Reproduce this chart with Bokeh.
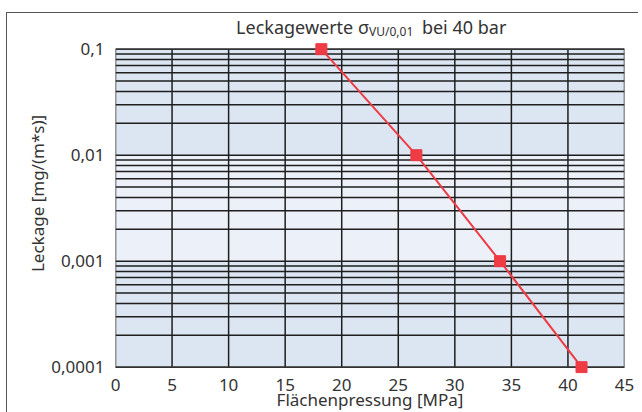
from bokeh.plotting import figure
from bokeh.models import FixedTicker, Label
from bokeh.embed import file_html
from bokeh.resources import INLINE

# ---- data ----
pressure = [18.2, 26.6, 34.0, 41.2]          # Flächenpressung [MPa]
leakage = [0.1, 0.01, 0.001, 0.0001]         # Leckage [mg/(m*s)]
x_ticks = [0, 5, 10, 15, 20, 25, 30, 35, 40, 45]
y_ticks = [0.0001, 0.001, 0.01, 0.1]
y_tick_labels = ["0,0001", "0,001", "0,01", "0,1"]
title_main = "Leckagewerte σ"
title_sub = "VU/0,01"
title_tail = "bei 40 bar"
x_label = "Flächenpressung [MPa]"
y_label = "Leckage [mg/(m*s)]"

FONT = "Noto Sans"
TXT = "#333333"
RED = "#ee3b44"
GRID = "#1e1e1e"

# ---- layout (page pixel targets) ----
OFF_Y = 12.3                               # page y of canvas top
H = 402
MB_BOTTOM = 42
BOX_TOP, BOX_BOTTOM = 48.0, 366.0          # page y of 0.1 and 0.0001
DEC = (BOX_BOTTOM - BOX_TOP) / 3.0
FRAME_TOP = OFF_Y
FRAME_BOTTOM = OFF_Y + H - MB_BOTTOM
BOX_LEFT, BOX_RIGHT = 116.0, 626.0
PXU = (BOX_RIGHT - BOX_LEFT) / 45.0

def xd(px):
    return (px - BOX_LEFT) / PXU

def yd(py):
    return 10 ** (-1 + (BOX_TOP - py) / DEC)

p = figure(width=632, height=H, x_range=(0, 45),
           y_range=(yd(FRAME_BOTTOM), yd(FRAME_TOP)),
           y_axis_type="log", title=None, output_backend="svg",
           toolbar_location=None, min_border_left=108, min_border_right=15,
           min_border_top=0, min_border_bottom=MB_BOTTOM)
p.styles = {"border-left": "1.5px solid #555555", "border-top": "1.5px solid #555555",
            "margin-top": "12px", "margin-left": "6px"}

p.background_fill_color = "white"
p.border_fill_color = "white"
p.outline_line_color = None
p.xgrid.visible = False
p.ygrid.visible = False

# plot box background with lighter middle decade
p.quad(left=0, right=45, bottom=y_ticks[0], top=y_ticks[-1],
       fill_color="#dce6f2", line_color=None)
p.quad(left=0, right=45, bottom=y_ticks[1], top=y_ticks[2],
       fill_color="#ecf1f9", line_color=None)

# grid lines (log minor lines and 5 MPa lines) inside the box
minor = []
for d in y_ticks[:-1]:
    for k in range(1, 10):
        minor.append(d * k)
minor.append(y_ticks[-1])
p.segment(x0=[x_ticks[0]] * len(minor), y0=minor, x1=[x_ticks[-1]] * len(minor), y1=minor,
          line_color=GRID, line_width=1.5)
inner = x_ticks[1:-1]
p.segment(x0=inner, y0=[y_ticks[0]] * len(inner), x1=inner, y1=[y_ticks[-1]] * len(inner),
          line_color=GRID, line_width=1.5)
p.quad(left=0, right=45, bottom=y_ticks[0], top=y_ticks[-1],
       fill_color=None, line_color="#333333", line_width=1.5)

# axes
p.xaxis.ticker = FixedTicker(ticks=x_ticks)
p.yaxis.ticker = FixedTicker(ticks=y_ticks)
p.yaxis.major_label_overrides = {v: l for v, l in zip(y_ticks, y_tick_labels)}
for ax in (p.xaxis, p.yaxis):
    ax.axis_line_color = None
    ax.major_tick_line_color = None
    ax.minor_tick_line_color = None
    ax.major_label_text_font = FONT
    ax.major_label_text_font_size = "17px"
    ax.major_label_text_color = TXT
    ax.axis_label_text_font = FONT
    ax.axis_label_text_color = TXT
    ax.axis_label_text_font_style = "normal"
p.xaxis.axis_label_text_font_size = "17px"
p.yaxis.axis_label_text_font_size = "17px"
p.xaxis.axis_label = x_label
p.yaxis.axis_label = y_label
p.xaxis.major_label_standoff = -1
p.xaxis.axis_label_standoff = -6
p.yaxis.major_label_standoff = 5
p.yaxis.axis_label_standoff = -1

# data
p.line(pressure, leakage, line_color=RED, line_width=2)
p.scatter(pressure, leakage, marker="square", size=11, fill_color=RED, line_color=RED)

# title composed of labels
p.add_layout(Label(x=xd(370), y=yd(26), text=title_main, text_align="right",
                   text_baseline="alphabetic", text_font=FONT, text_font_size="18px",
                   text_color=TXT))
p.add_layout(Label(x=xd(370), y=yd(30), text=title_sub, text_align="left",
                   text_baseline="alphabetic", text_font=FONT, text_font_size="12px",
                   text_color=TXT))
p.add_layout(Label(x=xd(423), y=yd(26), text=title_tail, text_align="left",
                   text_baseline="alphabetic", text_font=FONT, text_font_size="18px",
                   text_color=TXT))

open("out.html", "w").write(file_html(p, INLINE))
